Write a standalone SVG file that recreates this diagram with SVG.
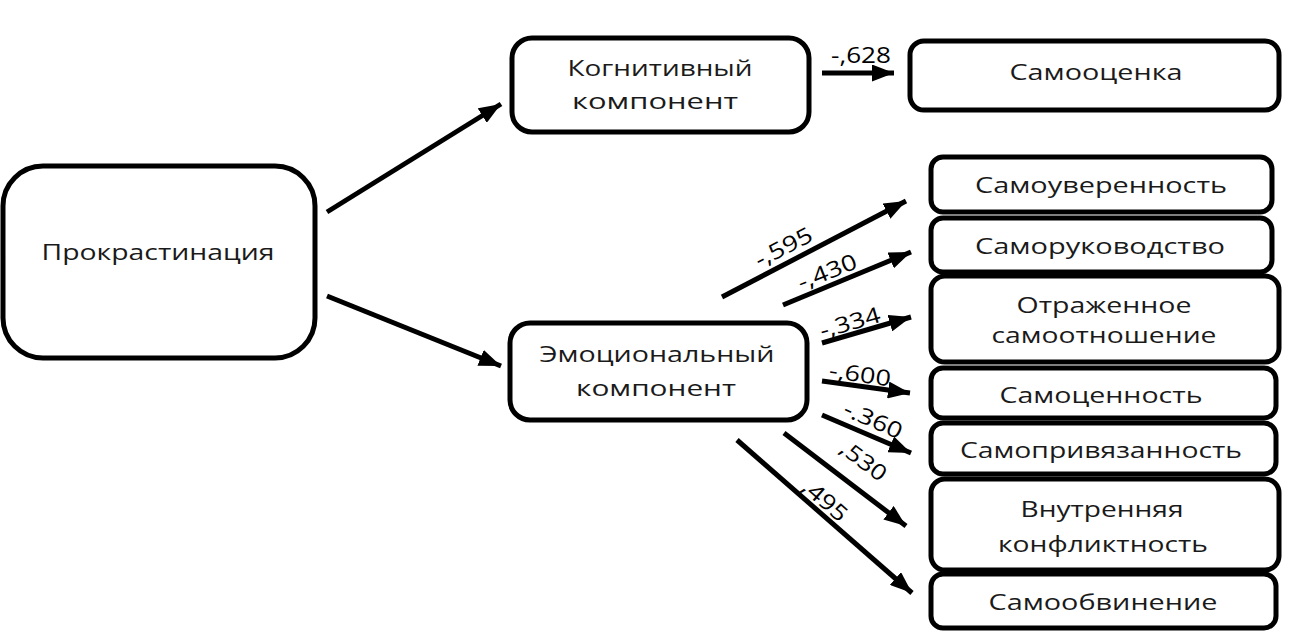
<svg xmlns="http://www.w3.org/2000/svg" width="1292" height="643" viewBox="0 0 1292 643">
<defs>
<marker id="ah" viewBox="0 0 10 10" refX="10" refY="5" markerWidth="4.4" markerHeight="3.4" markerUnits="strokeWidth" orient="auto" preserveAspectRatio="none">
<path d="M0,0 L10,5 L0,10 Z" fill="#000"/>
</marker>
</defs>
<style>
.box{fill:#fff;stroke:#000;stroke-width:5}
.t{font-family:"Open Sans","Liberation Sans",sans-serif;font-size:22px;fill:#1a1a1a;text-anchor:middle}
.lb{font-family:"Open Sans","Liberation Sans",sans-serif;font-size:22px;fill:#000;text-anchor:middle}
.c{stroke:#000;stroke-width:5;fill:none;marker-end:url(#ah)}
</style>
<rect width="1292" height="643" fill="#fff"/>
<g id="n-procrastination"><rect class="box" x="3" y="166" width="312" height="192" rx="40"/><text class="t" x="158" y="260" textLength="233" lengthAdjust="spacingAndGlyphs">Прокрастинация</text></g>
<g id="n-cognitive"><rect class="box" x="512" y="38" width="297" height="94" rx="20"/><text class="t" x="660" y="76" textLength="185" lengthAdjust="spacingAndGlyphs">Когнитивный</text><text class="t" x="655" y="109" textLength="166" lengthAdjust="spacingAndGlyphs">компонент</text></g>
<g id="n-emotional"><rect class="box" x="510" y="323" width="297" height="97" rx="20"/><text class="t" x="657" y="362" textLength="235" lengthAdjust="spacingAndGlyphs">Эмоциональный</text><text class="t" x="656" y="396" textLength="160" lengthAdjust="spacingAndGlyphs">компонент</text></g>
<g id="n-selfesteem"><rect class="box" x="910" y="41" width="369" height="69" rx="14"/><text class="t" x="1096" y="80" textLength="173" lengthAdjust="spacingAndGlyphs">Самооценка</text></g>
<g id="n-confidence"><rect class="box" x="931" y="157" width="341" height="55" rx="12"/><text class="t" x="1101" y="193" textLength="252" lengthAdjust="spacingAndGlyphs">Самоуверенность</text></g>
<g id="n-guidance"><rect class="box" x="931" y="218" width="341" height="54" rx="12"/><text class="t" x="1100" y="254" textLength="250" lengthAdjust="spacingAndGlyphs">Саморуководство</text></g>
<g id="n-reflected"><rect class="box" x="931" y="276" width="348" height="86" rx="14"/><text class="t" x="1104" y="313" textLength="175" lengthAdjust="spacingAndGlyphs">Отраженное</text><text class="t" x="1104" y="343" textLength="225" lengthAdjust="spacingAndGlyphs">самоотношение</text></g>
<g id="n-selfworth"><rect class="box" x="931" y="368" width="345" height="50" rx="12"/><text class="t" x="1101" y="403" textLength="203" lengthAdjust="spacingAndGlyphs">Самоценность</text></g>
<g id="n-attachment"><rect class="box" x="931" y="423" width="345" height="51" rx="12"/><text class="t" x="1101" y="458" textLength="282" lengthAdjust="spacingAndGlyphs">Самопривязанность</text></g>
<g id="n-conflict"><rect class="box" x="931" y="479" width="348" height="91" rx="14"/><text class="t" x="1102" y="517" textLength="163" lengthAdjust="spacingAndGlyphs">Внутренняя</text><text class="t" x="1103" y="552" textLength="210" lengthAdjust="spacingAndGlyphs">конфликтность</text></g>
<g id="n-blame"><rect class="box" x="931" y="574" width="345" height="54" rx="12"/><text class="t" x="1103" y="610" textLength="229" lengthAdjust="spacingAndGlyphs">Самообвинение</text></g>
<g id="connectors">
<line class="c" x1="327" y1="212" x2="501" y2="104"/>
<line class="c" x1="327" y1="296" x2="501" y2="366"/>
<line class="c" x1="822" y1="73" x2="894" y2="73"/>
<line class="c" x1="722" y1="297" x2="906" y2="201"/>
<line class="c" x1="783" y1="305" x2="911" y2="252"/>
<line class="c" x1="822" y1="343" x2="911" y2="317"/>
<line class="c" x1="822" y1="381" x2="910" y2="393"/>
<line class="c" x1="822" y1="415" x2="911" y2="453"/>
<line class="c" x1="784" y1="433" x2="906" y2="526"/>
<line class="c" x1="737" y1="440" x2="912" y2="593"/>
</g>
<g id="labels">
<text class="lb" x="861" y="63" textLength="60" lengthAdjust="spacingAndGlyphs">-,628</text>
<text class="lb" transform="translate(787,254) rotate(-27)" textLength="62" lengthAdjust="spacingAndGlyphs">-,595</text>
<text class="lb" transform="translate(830,279) rotate(-22)" textLength="62" lengthAdjust="spacingAndGlyphs">-,430</text>
<text class="lb" transform="translate(852,330) rotate(-16)" textLength="62" lengthAdjust="spacingAndGlyphs">-,334</text>
<text class="lb" transform="translate(859,382) rotate(8)" textLength="62" lengthAdjust="spacingAndGlyphs">-,600</text>
<text class="lb" transform="translate(870,427) rotate(24)" textLength="62" lengthAdjust="spacingAndGlyphs">-.360</text>
<text class="lb" transform="translate(859,467) rotate(37)" textLength="52" lengthAdjust="spacingAndGlyphs">,530</text>
<text class="lb" transform="translate(820,506) rotate(41)" textLength="52" lengthAdjust="spacingAndGlyphs">,495</text>
</g>
</svg>
